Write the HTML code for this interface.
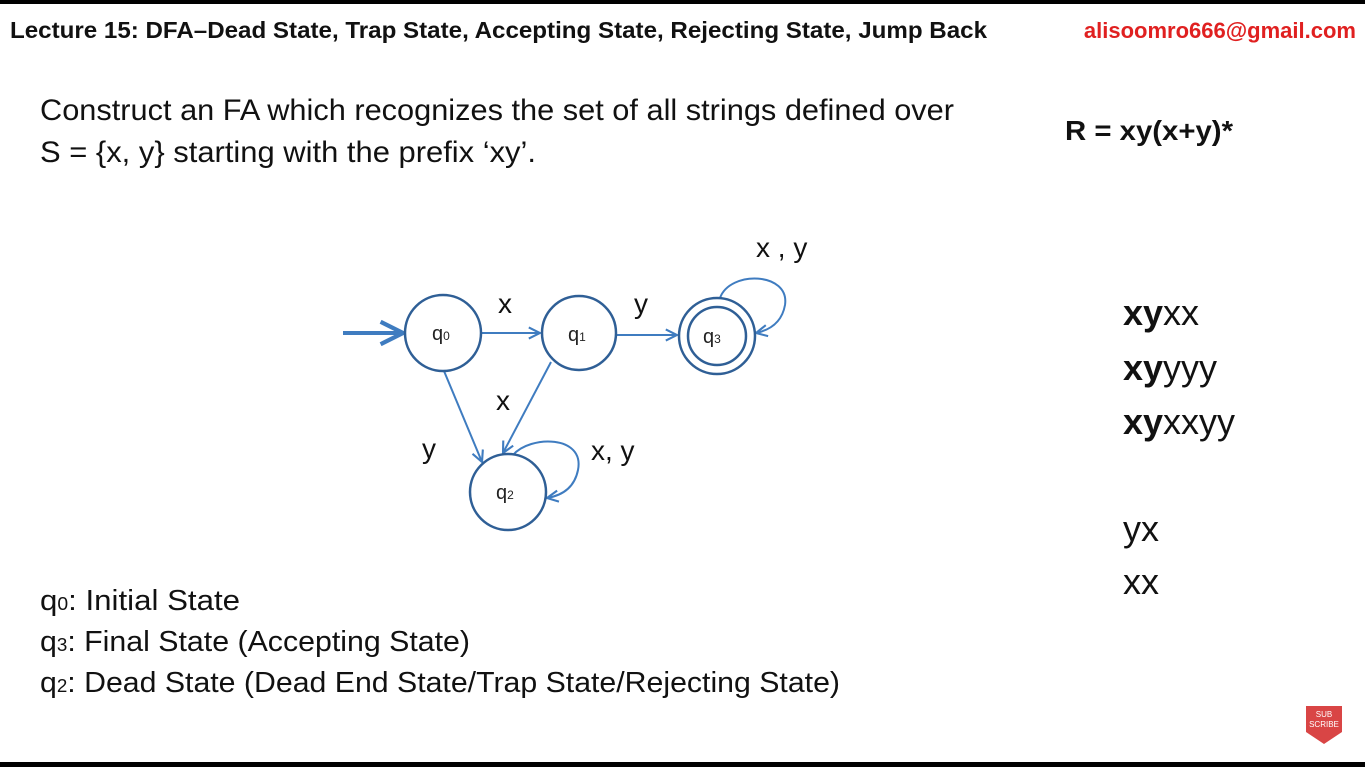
<!DOCTYPE html>
<html><head><meta charset="utf-8"><style>
html,body{margin:0;padding:0;background:#fff;}
svg{display:block;font-family:"Liberation Sans",sans-serif;}
</style></head><body>
<svg width="1365" height="767" viewBox="0 0 1365 767">
<defs><marker id="ah" viewBox="0 0 10 10" refX="9" refY="5" markerWidth="7" markerHeight="7" orient="auto"><path d="M1,1 L9,5 L1,9" fill="none" stroke="#3f7cc0" stroke-width="1.5"/></marker></defs>
<rect x="0" y="0" width="1365" height="4" fill="#000"/>
<rect x="0" y="762" width="1365" height="5" fill="#000"/>
<text x="10" y="38" font-size="23" font-weight="bold" fill="#111" textLength="977" lengthAdjust="spacingAndGlyphs">Lecture 15: DFA–Dead State, Trap State, Accepting State, Rejecting State, Jump Back</text>
<text x="1356" y="38" font-size="22" font-weight="bold" fill="#e02020" text-anchor="end">alisoomro666@gmail.com</text>
<text x="40" y="120" font-size="30" fill="#111" textLength="914" lengthAdjust="spacingAndGlyphs">Construct an FA which recognizes the set of all strings defined over</text>
<text x="40" y="162" font-size="30" fill="#111" textLength="496" lengthAdjust="spacingAndGlyphs">S = {x, y} starting with the prefix ‘xy’.</text>
<text x="1065" y="140" font-size="28" font-weight="bold" fill="#111" textLength="168" lengthAdjust="spacingAndGlyphs">R = xy(x+y)*</text>
<g fill="none" stroke="#3f7cc0" stroke-width="2">
<line x1="343" y1="333" x2="403" y2="333" stroke-width="4" marker-end="url(#ah)"/>
<line x1="481" y1="333" x2="540" y2="333" marker-end="url(#ah)"/>
<line x1="617" y1="335" x2="677" y2="335" marker-end="url(#ah)"/>
<line x1="444" y1="371" x2="482" y2="462" marker-end="url(#ah)"/>
<line x1="551" y1="362" x2="503" y2="453" marker-end="url(#ah)"/>
<path d="M720,298 C730,270 790,272 785,305 C782,322 770,330 756,333" marker-end="url(#ah)"/>
<path d="M513,455 C530,435 585,435 578,470 C575,485 565,495 547,498" marker-end="url(#ah)"/>
</g>
<g fill="#fff" stroke="#2f5f96" stroke-width="2.5">
<circle cx="443" cy="333" r="38"/><circle cx="579" cy="333" r="37"/>
<circle cx="717" cy="336" r="38"/><circle cx="717" cy="336" r="29"/>
<circle cx="508" cy="492" r="38"/>
</g>
<g font-size="20" fill="#222">
<text x="432" y="340">q<tspan font-size="12">0</tspan></text>
<text x="568" y="341">q<tspan font-size="12">1</tspan></text>
<text x="703" y="343">q<tspan font-size="12">3</tspan></text>
<text x="496" y="499">q<tspan font-size="12">2</tspan></text>
</g>
<g font-size="28" fill="#111">
<text x="498" y="313">x</text><text x="634" y="313">y</text>
<text x="756" y="257">x , y</text><text x="496" y="410">x</text>
<text x="422" y="458">y</text><text x="591" y="460">x, y</text>
</g>
<g font-size="29" fill="#111">
<text x="40" y="610" textLength="200" lengthAdjust="spacingAndGlyphs">q<tspan font-size="18">0</tspan>: Initial State</text>
<text x="40" y="651" textLength="430" lengthAdjust="spacingAndGlyphs">q<tspan font-size="18">3</tspan>: Final State (Accepting State)</text>
<text x="40" y="692" textLength="800" lengthAdjust="spacingAndGlyphs">q<tspan font-size="18">2</tspan>: Dead State (Dead End State/Trap State/Rejecting State)</text>
</g>
<g font-size="36" fill="#111">
<text x="1123" y="325"><tspan font-weight="bold">xy</tspan>xx</text>
<text x="1123" y="380"><tspan font-weight="bold">xy</tspan>yyy</text>
<text x="1123" y="434"><tspan font-weight="bold">xy</tspan>xxyy</text>
<text x="1123" y="541">yx</text>
<text x="1123" y="594">xx</text>
</g>
<g>
<path d="M1306,706 L1342,706 L1342,732 L1324,744 L1306,732 Z" fill="#d94545"/>
<text x="1324" y="717" font-size="8" fill="#fff" text-anchor="middle">SUB</text>
<text x="1324" y="727" font-size="8" fill="#fff" text-anchor="middle">SCRIBE</text>
</g>
</svg>
</body></html>
